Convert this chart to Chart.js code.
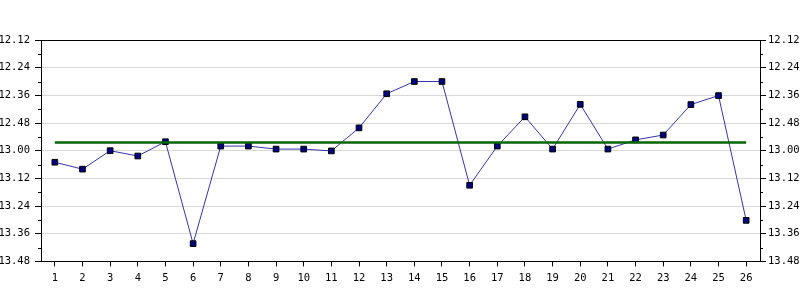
<!DOCTYPE html>
<html>
<head>
<meta charset="utf-8">
<script src="https://cdn.jsdelivr.net/npm/chart.js@4/dist/chart.umd.min.js"></script>
<style>
    html, body { margin: 0; padding: 0; background: #fff; }
    #wrap { width: 800px; height: 300px; }
</style>
</head>
<body>
<div id="wrap"><canvas id="lapChart"></canvas></div>
<script>
// Lap numbers on the x axis
const laps = ['1', '2', '3', '4', '5', '6', '7', '8', '9', '10', '11', '12', '13',
    '14', '15', '16', '17', '18', '19', '20', '21', '22', '23', '24', '25', '26'];

// Lap times in seconds (13.00 = 780 s)
const lapSeconds = [785, 788, 780, 782.3, 776.1, 820.3, 778, 778, 779.3, 779.3, 780.1, 770.1, 755.3,
    750, 750, 795, 778, 765.3, 779.3, 759.9, 779.3, 775.3, 773.2, 760, 756.1, 810.2];

// Average lap time, drawn as a flat line from first to last lap
const averageSeconds = 776.4;
const averageLine = [
    { x: laps[0], y: averageSeconds },
    { x: laps[laps.length - 1], y: averageSeconds }
];

// Y axis range and label step (seconds)
const yMin = 732;   // 12.12
const yMax = 828;   // 13.48
const yStep = 12;

// Format seconds as m.ss
function fmtTime(s) {
    let m = Math.floor(s / 60);
    let sec = Math.round(s - m * 60);
    return m + '.' + String(sec).padStart(2, '0');
}

function isMajor(v) {
    return Math.round(v - yMin) % yStep === 0;
}

const tickFont = { family: 'DejaVu Sans Mono', size: 10.5 };

// Small plugin for the short minor ticks between labels
const minorTicks = {
    id: 'minorTicks',
    afterDraw(chart) {
        let ctx = chart.ctx;
        ctx.save();
        ctx.strokeStyle = '#000';
        ctx.lineWidth = 1;
        ['y', 'y2'].forEach(id => {
            let sc = chart.scales[id];
            sc.ticks.forEach(t => {
                if (isMajor(t.value)) return;
                let py = Math.round(sc.getPixelForValue(t.value)) + 0.5;
                ctx.beginPath();
                if (id === 'y') {
                    ctx.moveTo(sc.right - 3, py);
                    ctx.lineTo(sc.right, py);
                } else {
                    ctx.moveTo(sc.left, py);
                    ctx.lineTo(sc.left + 3, py);
                }
                ctx.stroke();
            });
        });
        ctx.restore();
    }
};

function yAxis(position, onChart, width) {
    return {
        type: 'linear',
        position: position,
        reverse: true,
        min: yMin,
        max: yMax,
        afterFit: sc => { sc.width = width; },
        ticks: {
            stepSize: yStep / 2,
            autoSkip: false,
            padding: position === 'left' ? 5 : 2,
            color: '#000',
            font: tickFont,
            callback: v => isMajor(v) ? fmtTime(v) : ''
        },
        grid: {
            drawOnChartArea: onChart,
            tickLength: 6,
            color: ctx => {
                let v = ctx.tick ? ctx.tick.value : null;
                if (v === yMin) return '#000';
                if (v === null || !isMajor(v) || v === yMax) return 'rgba(0,0,0,0)';
                return '#d8d8d8';
            },
            tickColor: ctx => (ctx.tick && isMajor(ctx.tick.value)) ? '#000' : 'rgba(0,0,0,0)'
        },
        border: { display: true, color: '#000' }
    };
}

new Chart(document.getElementById('lapChart'), {
    type: 'line',
    data: {
        labels: laps,
        datasets: [{
            label: 'Average',
            data: averageLine,
            borderColor: '#006400',
            borderWidth: 2.5,
            pointRadius: 0,
            yAxisID: 'y'
        }, {
            label: 'Lap time',
            data: lapSeconds,
            borderColor: '#3535a8',
            borderWidth: 1,
            pointStyle: 'rect',
            pointRadius: 4,
            pointBackgroundColor: '#000080',
            pointBorderColor: '#000',
            pointBorderWidth: 1,
            yAxisID: 'y'
        }]
    },
    options: {
        responsive: true,
        maintainAspectRatio: false,
        animation: false,
        layout: { padding: { top: 40, right: 0, bottom: 9, left: 0 } },
        plugins: {
            legend: { display: false },
            tooltip: { enabled: false }
        },
        scales: {
            x: {
                type: 'category',
                offset: true,
                ticks: { color: '#000', font: tickFont, padding: 6, autoSkip: false, maxRotation: 0 },
                grid: { drawOnChartArea: false, tickLength: 5, tickColor: '#000' },
                border: { display: true, color: '#000' }
            },
            y: yAxis('left', true, 41),
            y2: yAxis('right', false, 40)
        }
    },
    plugins: [minorTicks]
});
</script>
</body>
</html>
